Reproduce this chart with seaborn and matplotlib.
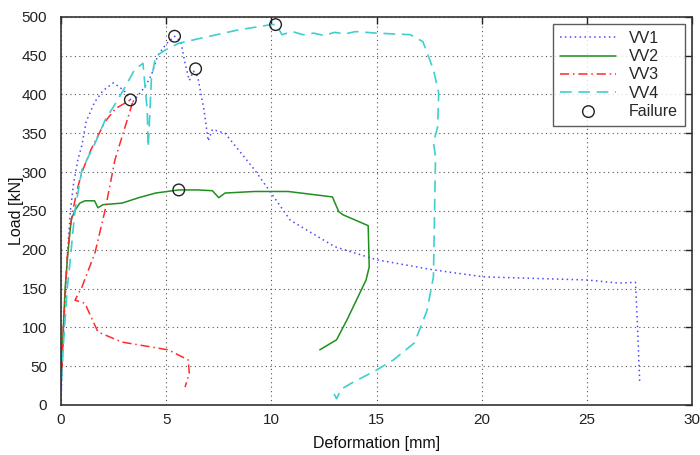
import numpy as np
import pandas as pd
import matplotlib
matplotlib.use("Agg")
import matplotlib.pyplot as plt
import seaborn as sns

# ---- data ----
vv1_x = [0.0, 0.05, 0.15, 0.3, 0.45, 0.6, 0.8, 1.0, 1.2, 1.6, 2.0, 2.5, 3.0, 3.4, 3.7, 4.0, 4.3,
         4.6, 5.0, 5.4, 5.7, 5.9, 6.1, 6.3, 6.5, 6.8, 7.0, 7.2, 7.8, 9.2, 10.9, 13.0, 15.0, 17.7,
         20.1, 25.0, 26.5, 27.3, 27.4, 27.5]
vv1_y = [0, 40, 110, 190, 250, 285, 315, 335, 365, 390, 405, 415, 405, 390, 400, 410, 425,
         450, 465, 475, 468, 440, 418, 430, 423, 380, 340, 355, 350, 303, 238, 204, 187, 174,
         165, 161, 157, 158, 100, 30]

vv2_x = [0.0, 0.05, 0.1, 0.15, 0.2, 0.3, 0.4, 0.5, 0.7, 0.9, 1.14, 1.6, 1.76, 2.0, 2.9, 3.7,
         4.5, 5.6, 6.5, 7.2, 7.5, 7.8, 9.2, 10.8, 11.4, 12.9, 13.2, 13.4, 14.6, 14.65, 14.5,
         13.6, 13.1, 12.3]
vv2_y = [30, 60, 90, 120, 150, 185, 215, 240, 252, 260, 263, 263, 254, 258, 260, 267,
         273, 277, 277, 276, 267, 273, 275, 275, 273, 268, 249, 245, 231, 178, 161,
         110, 84, 71]

vv3_x = [0.0, 0.05, 0.1, 0.2, 0.3, 0.45, 0.6, 0.8, 1.0, 1.43, 2.1, 2.6, 2.8, 3.3, 3.4, 2.57,
         2.1, 1.62, 1.0, 0.67, 1.14, 1.76, 2.9, 5.1, 6.05, 6.1, 5.9]
vv3_y = [20, 50, 90, 140, 190, 230, 255, 280, 300, 329, 365, 382, 385, 393, 389, 316,
         251, 196, 152, 135, 131, 94, 81, 71, 58, 41, 23]

vv4_x = [0.03, 0.1, 0.2, 0.3, 0.43, 0.67, 1.0, 1.62, 2.1, 2.7, 3.1, 3.5, 3.9, 4.1, 4.15, 4.3,
         4.5, 4.95, 5.6, 6.9, 8.4, 10.0, 10.2, 10.3, 10.5, 11.0, 11.5, 12.0, 12.5, 13.0, 13.5,
         14.0, 15.0, 16.6, 17.2, 17.7, 17.95, 17.9, 17.7, 17.8, 17.7, 17.4, 16.8, 15.8, 15.0,
         13.8, 13.3, 13.1, 12.9]
vv4_y = [32, 70, 110, 150, 183, 251, 303, 337, 367, 393, 412, 432, 440, 380, 332, 420,
         449, 457, 466, 474, 483, 490, 490, 487, 477, 481, 477, 479, 476, 480, 478,
         481, 479, 477, 468, 432, 402, 358, 338, 320, 165, 122, 80, 58, 45,
         28, 20, 8, 18]

fail_x = [3.3, 5.4, 6.4, 5.6, 10.2]
fail_y = [393, 475, 433, 277, 490]

series_names = ["VV1", "VV2", "VV3", "VV4"]
x_ticks = [0, 5, 10, 15, 20, 25, 30]
y_ticks = [0, 50, 100, 150, 200, 250, 300, 350, 400, 450, 500]

# ---- plotting ----
sns.set_style("white")
plt.rcParams['font.family'] = ['Liberation Sans', 'DejaVu Sans']

fig = plt.figure(figsize=(7.0, 4.55), dpi=100)
ax = fig.add_axes([0.087, 0.11, 0.902, 0.853])

styles = {
    "VV1": dict(color="#4a4aff", linestyle=(0, (1, 2.2)), linewidth=1.1),
    "VV2": dict(color="#1f8f1f", linestyle="-", linewidth=1.1),
    "VV3": dict(color="#ff2a2a", linestyle=(0, (6, 2.5, 1, 2.5)), linewidth=1.1),
    "VV4": dict(color="#3fcfcf", linestyle=(0, (7, 4)), linewidth=1.2),
}
data = {"VV1": (vv1_x, vv1_y), "VV2": (vv2_x, vv2_y), "VV3": (vv3_x, vv3_y), "VV4": (vv4_x, vv4_y)}

for name in series_names:
    xs, ys = data[name]
    df = pd.DataFrame({"x": xs, "y": ys})
    sns.lineplot(data=df, x="x", y="y", sort=False, estimator=None, ax=ax,
                 label=name, **styles[name])

fdf = pd.DataFrame({"x": fail_x, "y": fail_y})
sns.scatterplot(data=fdf, x="x", y="y", ax=ax, marker="o", s=70,
                facecolors="none", edgecolors="#222222", linewidth=1.0,
                label="Failure", zorder=5)

ax.set_xlim(0, 30)
ax.set_ylim(0, 500)
ax.set_xticks(x_ticks)
ax.set_yticks(y_ticks)
ax.grid(True, color="#555555", linestyle=(0, (1, 3)), linewidth=0.8)
ax.tick_params(direction="in", top=True, right=True, length=5, width=1,
               labelsize=11, colors="#222222")
ax.tick_params(axis="x", pad=6)
ax.tick_params(axis="y", pad=10)
for s in ax.spines.values():
    s.set_color("#333333")
    s.set_linewidth(1.2)
ax.set_xlabel("Deformation [mm]", fontsize=11.5, color="#111111", labelpad=6)
ax.set_ylabel("Load [kN]", fontsize=11.5, color="#111111")
ax.yaxis.set_label_coords(-0.059, 0.5)

leg = ax.legend(loc="upper right", bbox_to_anchor=(0.989, 0.982), borderaxespad=0,
                fontsize=11.5, frameon=True, fancybox=False, handlelength=3.5,
                borderpad=0.45, labelspacing=0.2, handletextpad=0.8)
leg.get_frame().set_edgecolor("#333333")
leg.get_frame().set_linewidth(1.0)

fig.savefig("out.png", dpi=100)
